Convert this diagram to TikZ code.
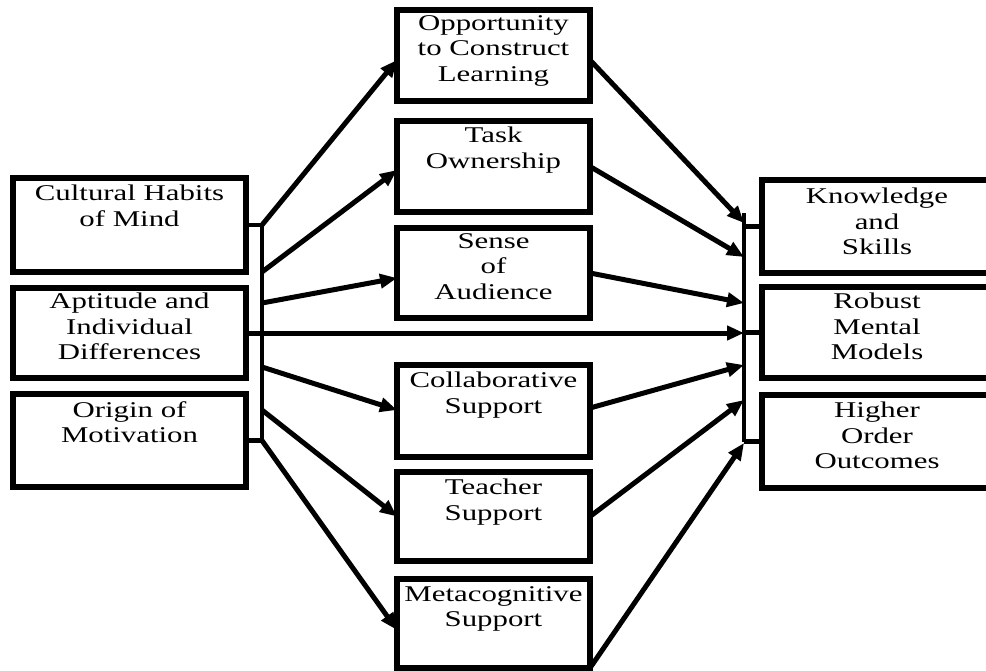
\documentclass[tikz,border=0pt]{standalone}
\usepackage{fontspec}
\setmainfont{Liberation Serif}[FakeStretch=1.37]
\usetikzlibrary{arrows.meta}
\begin{document}
\begin{tikzpicture}[x=1pt,y=-1pt,
  boxn/.style={draw, line width=5.5pt, rectangle, inner sep=0pt, outer sep=0pt},
  lbl/.style={font=\fontsize{22.5}{25.5}\selectfont, align=center, anchor=north, inner sep=0pt},
  arr/.style={line width=5pt, -{Triangle[length=17pt,width=14pt]}},
  brk/.style={line width=4.5pt}]
\useasboundingbox (0,0) rectangle (986,670);
\clip (0,0) rectangle (986,670);
% left boxes
\node[boxn, minimum width=233pt, minimum height=94pt] (cult) at (129.5,225) {};
\node[boxn, minimum width=233pt, minimum height=90pt] (apt) at (129.5,333) {};
\node[boxn, minimum width=233pt, minimum height=93pt] (orig) at (129.5,440.5) {};
\node[lbl] (cultT) at ([yshift=-7pt]cult.north) {Cultural Habits\\of Mind};
\node[lbl] (aptT) at ([yshift=-5pt]apt.north) {Aptitude and\\Individual\\Differences};
\node[lbl] (origT) at ([yshift=-7pt]orig.north) {Origin of\\Motivation};
% middle boxes
\node[boxn, minimum width=193pt, minimum height=91pt] (opp) at (493.5,55.5) {};
\node[boxn, minimum width=193pt, minimum height=91pt] (task) at (493.5,166.5) {};
\node[boxn, minimum width=193pt, minimum height=90pt] (sense) at (493.5,273) {};
\node[boxn, minimum width=193pt, minimum height=92pt] (collab) at (493.5,411) {};
\node[boxn, minimum width=193pt, minimum height=89pt] (teach) at (493.5,516.5) {};
\node[boxn, minimum width=193pt, minimum height=89pt] (meta) at (493.5,623.5) {};
\node[lbl] (oppT) at ([yshift=-5pt]opp.north) {Opportunity\\to Construct\\Learning};
\node[lbl] (taskT) at ([yshift=-6pt]task.north) {Task\\Ownership};
\node[lbl] (senseT) at ([yshift=-5pt]sense.north) {Sense\\of\\Audience};
\node[lbl] (collabT) at ([yshift=-7pt]collab.north) {Collaborative\\Support};
\node[lbl] (teachT) at ([yshift=-7pt]teach.north) {Teacher\\Support};
\node[lbl] (metaT) at ([yshift=-7pt]meta.north) {Metacognitive\\Support};
% right boxes
\node[boxn, minimum width=230pt, minimum height=93pt] (know) at (877,226.5) {};
\node[boxn, minimum width=230pt, minimum height=91pt] (rob) at (877,332.5) {};
\node[boxn, minimum width=230pt, minimum height=93pt] (high) at (877,441.5) {};
\node[lbl] (knowT) at ([yshift=-8pt]know.north) {Knowledge\\and\\Skills};
\node[lbl] (robT) at ([yshift=-6pt]rob.north) {Robust\\Mental\\Models};
\node[lbl] (highT) at ([yshift=-7pt]high.north) {Higher\\Order\\Outcomes};
% brackets
\coordinate (L1) at (262,225);
\coordinate (L2) at (262,272);
\coordinate (L3) at (262,303);
\coordinate (L5) at (262,367);
\coordinate (L6) at (262,410);
\coordinate (L7) at (262,440.5);
\coordinate (Rtop) at (744,213);
\coordinate (Rbot) at (744,441.5);
\coordinate (R1) at (744,223);
\coordinate (R2) at (744,257);
\coordinate (R3) at (744,303);
\coordinate (R4) at (744,333);
\coordinate (R5) at (744,365);
\coordinate (R6) at (744,400);
\coordinate (R7) at (744,443);
\draw[brk] (cult.east) -- (L1) -- (L7) -- (orig.east);
\draw[brk] (Rtop) -- (Rbot);
\draw[brk] (know.west) -- (know.west -| Rtop);
\draw[brk] (rob.west) -- (rob.west -| Rtop);
\draw[brk] (high.west) -- (Rbot);
% arrows left
\draw[arr] (L1) -- ([yshift=-4.5pt]opp.west);
\draw[arr] (L2) -- ([yshift=-3.5pt]task.west);
\draw[arr] (L3) -- ([yshift=-5pt]sense.west);
\draw[arr] (apt.east) -- (R4);
\draw[arr] (L5) -- ([yshift=1pt]collab.west);
\draw[arr] (L6) -- (teach.west);
\draw[arr] (L7) -- ([yshift=-6.5pt]meta.west);
% arrows right
\draw[arr] ([yshift=-4.5pt]opp.east) -- (R1);
\draw[arr] (task.east) -- (R2);
\draw[arr] (sense.east) -- (R3);
\draw[arr] ([yshift=3pt]collab.east) -- (R5);
\draw[arr] (teach.east) -- (R6);
\draw[arr] (meta.south east) -- (R7);
\end{tikzpicture}
\end{document}
